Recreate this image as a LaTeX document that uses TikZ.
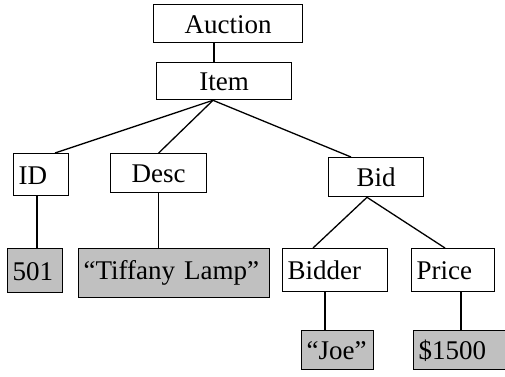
\documentclass[tikz,border=0pt]{standalone}
\usepackage{fontspec}
\setmainfont{Liberation Serif}
\usetikzlibrary{calc}
\definecolor{valuefill}{RGB}{192,192,192}
\tikzset{
  cell/.style={draw, line width=1.3pt, anchor=north west, inner xsep=5pt, inner ysep=0pt,
    text height=19pt, text depth=0pt, font=\fontsize{27}{31}\selectfont},
  leftcell/.style={cell, align=left},
  midcell/.style={cell, align=center},
  valuecell/.style={leftcell, fill=valuefill},
  link/.style={line width=1.3pt}
}
\begin{document}
\begin{tikzpicture}[x=1pt, y=-1pt]
  \useasboundingbox (0,0) rectangle (505,376);
  \clip (0,0) rectangle (505,376);
  % element nodes
  \node[midcell, text width=139pt, minimum height=38pt] (auction) at (153,4) {Auction};
  \node[midcell, text width=125pt, minimum height=37pt] (item) at (156,62) {Item};
  \node[leftcell, text width=45pt, minimum height=42pt] (id) at (13,153) {ID};
  \node[midcell, text width=86pt, minimum height=39pt] (desc) at (110,153) {Desc};
  \node[midcell, text width=85pt, minimum height=39pt] (bid) at (328,157) {Bid};
  \node[leftcell, text width=95pt, minimum height=43pt] (bidder) at (282,248) {Bidder};
  \node[leftcell, text width=73pt, minimum height=43pt] (price) at (411,248) {Price};
  % value nodes
  \node[valuecell, text width=45pt, minimum height=44pt] (v501) at (7,248) {501};
  \node[valuecell, text width=181pt, minimum height=49pt, text depth=7pt] (tiffany) at (78,248) {“Tiffany Lamp”};
  \node[valuecell, text width=62pt, minimum height=39pt] (joe) at (301,330) {“Joe”};
  \node[valuecell, text width=90pt, minimum height=39pt] (dollar) at (413,330) {\$1500};
  % junction points
  \coordinate (itemtop) at ($(item.north west)+(58,0)$);
  \coordinate (itemhub) at ($(item.south west)+(57,0)$);
  \coordinate (idtop) at ($(id.north west)+(42,0)$);
  \coordinate (bidtop) at ($(bid.north west)+(23,0)$);
  \coordinate (bidhub) at ($(bid.south west)+(39,0)$);
  \coordinate (biddertop) at ($(bidder.north west)+(31,0)$);
  \coordinate (pricetop) at ($(price.north west)+(34,0)$);
  \coordinate (v501top) at ($(v501.north west)+(30,0)$);
  \coordinate (joetop) at ($(joe.north west)+(24,0)$);
  \coordinate (dollartop) at ($(dollar.north west)+(48,0)$);
  % tree edges
  \draw[link] (itemtop) -- (itemtop |- auction.south);
  \draw[link] (itemhub) -- (idtop);
  \draw[link] (itemhub) -- (desc.north);
  \draw[link] (itemhub) -- (bidtop);
  \draw[link] (bidhub) -- (biddertop);
  \draw[link] (bidhub) -- (pricetop);
  \draw[link] (v501top) -- (v501top |- id.south);
  \draw[link] (desc.south) -- (desc.south |- tiffany.north);
  \draw[link] (joetop) -- (joetop |- bidder.south);
  \draw[link] (dollartop) -- (dollartop |- price.south);
\end{tikzpicture}
\end{document}
